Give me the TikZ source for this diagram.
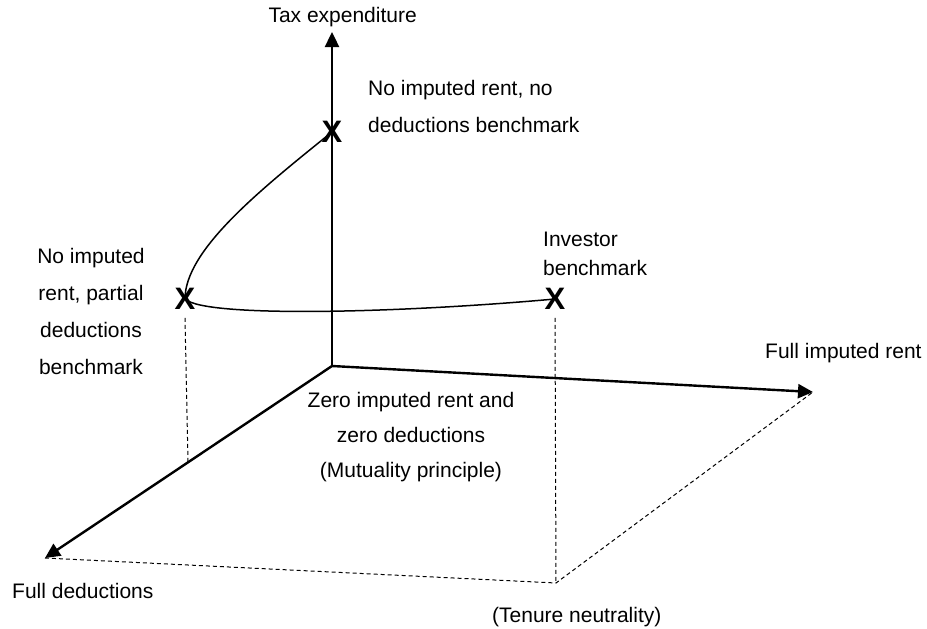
\documentclass[tikz,border=0pt]{standalone}
\usepackage{fontspec}
\setmainfont{Liberation Sans}
\usetikzlibrary{arrows.meta}
\tikzset{
  axis/.style={line width=2.4pt, -{Triangle[length=15pt,width=14pt]}},
  curve/.style={line width=1.5pt},
  guide/.style={line width=1pt, dash pattern=on 4pt off 3pt},
  xmark/.style={inner sep=0pt, font=\fontsize{31}{31}\selectfont\bfseries},
  lbl/.style={inner sep=0pt, font=\fontsize{21}{37}\selectfont},
}
\begin{document}
\begin{tikzpicture}[x=1pt,y=-1pt]
\useasboundingbox (0,0) rectangle (927,629);
% axes
\coordinate (O) at (332,366);
\coordinate (TopTip) at (332,32);
\coordinate (RightTip) at (813,392);
\coordinate (LeftTip) at (45,558);
\coordinate (C) at (556,583);
\coordinate (DL) at (188,462);
\draw[axis] (O) -- (TopTip);
\draw[axis] (O) -- (RightTip);
\draw[axis] (O) -- (LeftTip);
% X marks
\node[xmark] (XT) at (332,132) {X};
\node[xmark] (XL) at (185,299) {X};
\node[xmark] (XR) at (555,299) {X};
% dashed guides
\draw[guide] (LeftTip) -- (C) -- (RightTip);
\draw[guide] ([yshift=-8pt]XL.south) -- (DL);
\draw[guide] ([yshift=-8pt]XR.south) -- (C);
% curves
\draw[curve] (XT.center) .. controls (260,190) and (185,250) .. (XL.center);
\draw[curve] (XL.center) .. controls (205,318) and (400,313) .. (XR.center);
% labels
\node[lbl, anchor=base east] (tax) at (417,23) {Tax expenditure};
\node[lbl, anchor=north west, align=left] (nonone) at (368,80) {No imputed rent, no\\deductions benchmark};
\node[lbl, anchor=north, align=center] (partial) at (91,248) {No imputed\\rent, partial\\deductions\\benchmark};
\node[lbl, anchor=north west, align=left, font=\fontsize{21}{29}\selectfont] (inv) at (543,232) {Investor\\benchmark};
\node[lbl, anchor=north, align=center, font=\fontsize{21}{35}\selectfont] (zero) at (411,392) {Zero imputed rent and\\zero deductions\\(Mutuality principle)};
\node[lbl, anchor=base west] (fir) at (765,358) {Full imputed rent};
\node[lbl, anchor=base west] (fd) at (12,598) {Full deductions};
\node[lbl, anchor=base west] (ten) at (492,622) {(Tenure neutrality)};
\end{tikzpicture}
\end{document}
